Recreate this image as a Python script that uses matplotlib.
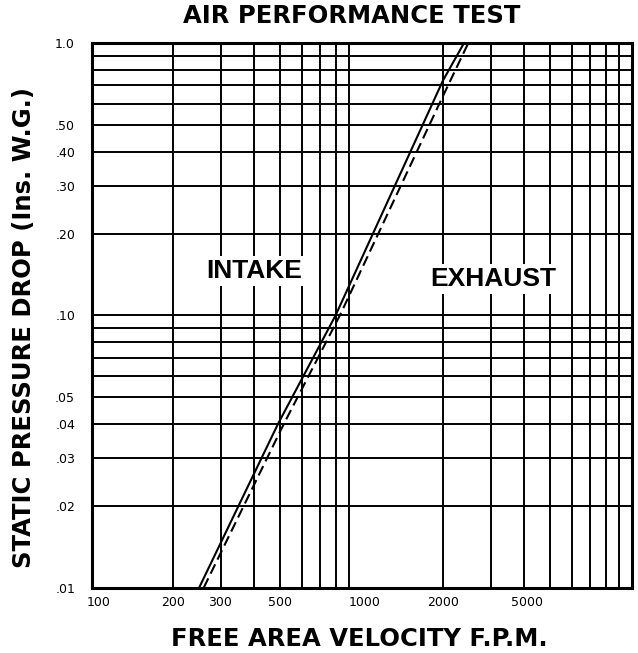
import matplotlib
matplotlib.use("Agg")
import matplotlib.pyplot as plt
import matplotlib.ticker as mticker
import matplotlib.transforms as mtransforms

# ── Data ──
intake_fpm = [250, 490, 800, 2000, 2390]
intake_dp = [0.01, 0.04, 0.10, 0.73, 1.0]

exhaust_fpm = [260, 515, 830, 2000, 2480]
exhaust_dp = [0.01, 0.04, 0.10, 0.64, 1.0]

x_ticks = [100, 200, 300, 500, 1000, 2000, 5000]
x_tick_labels = ["100", "200", "300", "500", "1000", "2000", "5000"]
y_ticks = [0.01, 0.02, 0.03, 0.04, 0.05, 0.10, 0.20, 0.30, 0.40, 0.50, 1.0]
y_tick_labels = [".01", ".02", ".03", ".04", ".05", ".10", ".20", ".30", ".40", ".50", "1.0"]

fig = plt.figure(figsize=(6.38, 6.53), dpi=100, facecolor="white")
ax = fig.add_axes([0.1437, 0.1, 0.9901 - 0.1437, 0.9337 - 0.1])

ax.set_xscale("log")
ax.set_yscale("log")
ax.set_xlim(100, 10000)
ax.set_ylim(0.01, 1.0)

# grid at every log subdivision
ax.xaxis.set_minor_locator(mticker.LogLocator(base=10, subs=range(2, 10), numticks=20))
ax.yaxis.set_minor_locator(mticker.LogLocator(base=10, subs=range(2, 10), numticks=20))
ax.xaxis.set_minor_formatter(mticker.NullFormatter())
ax.yaxis.set_minor_formatter(mticker.NullFormatter())
ax.grid(True, which="both", color="black", linewidth=1.4)
ax.set_axisbelow(True)

for spine in ax.spines.values():
    spine.set_linewidth(2.2)
    spine.set_color("black")

# y tick labels
ax.set_yticks(y_ticks)
ax.set_yticklabels(y_tick_labels, fontsize=9, family="DejaVu Sans")
ax.tick_params(axis="y", which="both", length=0, pad=12)

# x tick labels (drawn as text, "5000" sits left of its line on the original)
ax.set_xticks([])
ax.xaxis.set_minor_locator(mticker.LogLocator(base=10, subs=range(2, 10), numticks=20))
ax.tick_params(axis="x", which="both", length=0, labelbottom=False)
for val, lab in zip(x_ticks, x_tick_labels):
    dx = 0
    if lab == "100":
        dx = 7
    elif lab == "1000":
        dx = 3
    elif lab == "5000":
        dx = -23
    off = mtransforms.ScaledTranslation(dx / 100, 0, fig.dpi_scale_trans)
    ax.text(val, -0.016, lab, transform=ax.get_xaxis_transform() + off,
            ha="center", va="top", fontsize=9, family="DejaVu Sans")

# curves
ax.plot(intake_fpm, intake_dp, color="black", linewidth=1.5, zorder=4)
ax.plot(exhaust_fpm, exhaust_dp, color="black", linewidth=1.5,
        dashes=(5, 2.5), zorder=4)

# in-plot labels
ax.text(0.3015, 0.582, "INTAKE", transform=ax.transAxes, ha="center", va="center",
        fontsize=19, fontweight="bold", family="Liberation Sans", zorder=5,
        bbox=dict(facecolor="white", edgecolor="none", pad=2))
ax.text(0.7437, 0.567, "EXHAUST", transform=ax.transAxes, ha="center", va="center",
        fontsize=19, fontweight="bold", family="Liberation Sans", zorder=5,
        bbox=dict(facecolor="white", edgecolor="none", pad=2))

fig.text(0.552, 0.976, "AIR PERFORMANCE TEST", ha="center", va="center",
         fontsize=17.5, fontweight="heavy", family="DejaVu Sans")
fig.text(0.563, 0.021, "FREE AREA VELOCITY F.P.M.", ha="center", va="center",
         fontsize=17.5, fontweight="heavy", family="DejaVu Sans")
fig.text(0.037, 0.4985, "STATIC PRESSURE DROP (Ins. W.G.)", ha="center", va="center",
         rotation=90, fontsize=17.5, fontweight="heavy", family="DejaVu Sans")

fig.savefig("out.png", dpi=100, facecolor="white")
plt.close(fig)
